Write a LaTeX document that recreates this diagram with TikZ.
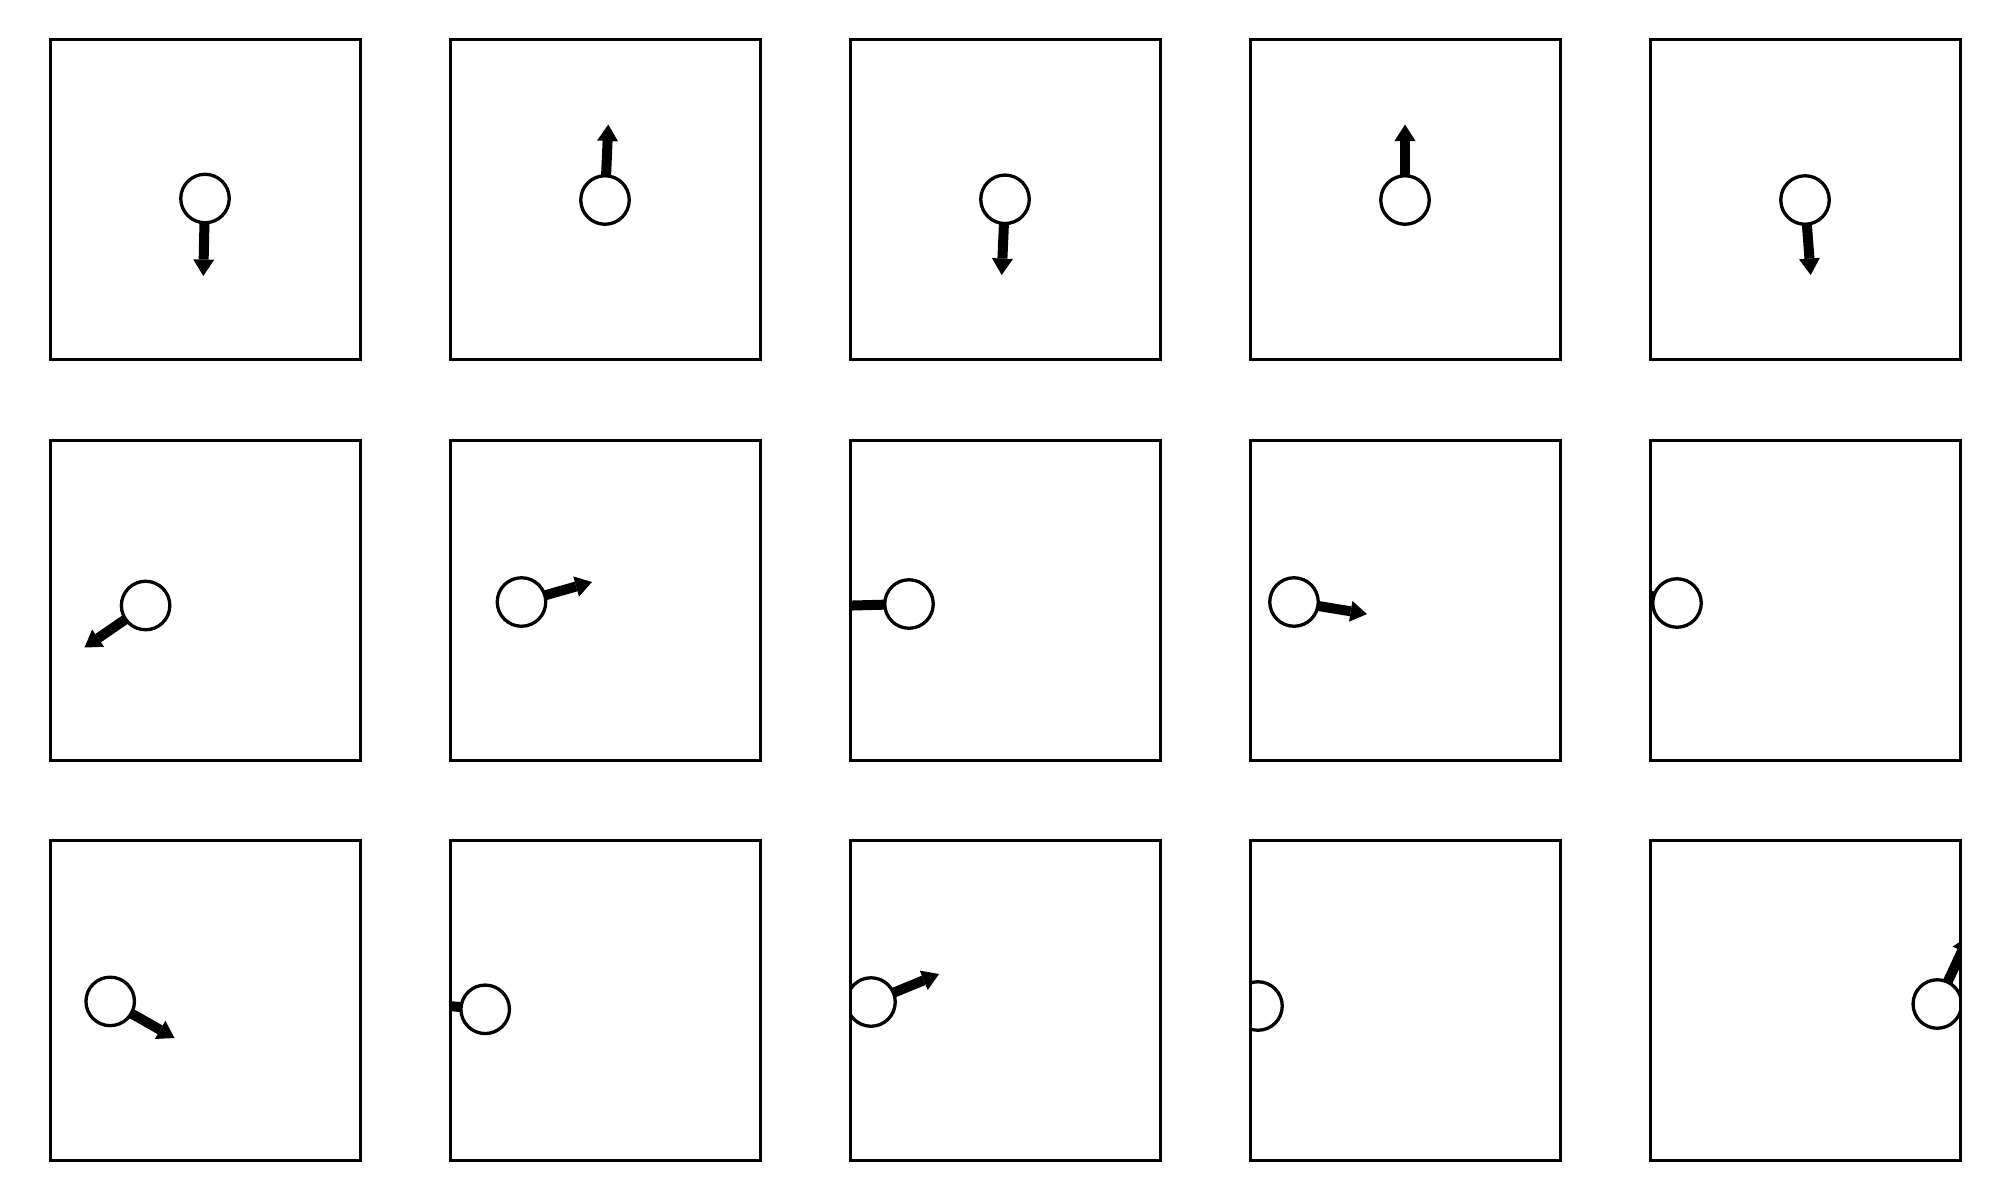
\documentclass[tikz,border=0pt]{standalone}
\usetikzlibrary{arrows.meta}
\begin{document}
\begin{tikzpicture}[x=1pt,y=-1pt,
  frame/.style={draw=black,line width=3pt,line join=miter,rectangle,minimum width=310pt,minimum height=320pt,inner sep=0pt,outer sep=0pt},
  ball/.style={circle,draw=black,fill=white,line width=3.3pt,minimum size=48.5pt,inner sep=0pt,outer sep=0pt},
  vel/.style={line width=10pt,line cap=butt,-{Triangle[width=21pt,length=16.5pt,line width=0pt]}}]
\fill[white] (0,0) rectangle (2000,1200);
\useasboundingbox (0,0) rectangle (2000,1200);
% ---------- row 1 ----------
\begin{scope}
\clip (50,39.7) rectangle (360,359.7);
\coordinate (p1) at (205,198.5); \coordinate (t1) at (203.3,276);
\draw[vel] (p1) -- (t1); \node[ball] (c1) at (p1) {};
\end{scope}
\begin{scope}
\clip (450,39.7) rectangle (760,359.7);
\coordinate (p2) at (605,200); \coordinate (t2) at (608.3,124.5);
\draw[vel] (p2) -- (t2); \node[ball] (c2) at (p2) {};
\end{scope}
\begin{scope}
\clip (850,39.7) rectangle (1160,359.7);
\coordinate (p3) at (1005,199.3); \coordinate (t3) at (1001.7,275);
\draw[vel] (p3) -- (t3); \node[ball] (c3) at (p3) {};
\end{scope}
\begin{scope}
\clip (1250,39.7) rectangle (1560,359.7);
\coordinate (p4) at (1405,200); \coordinate (t4) at (1405,124.5);
\draw[vel] (p4) -- (t4); \node[ball] (c4) at (p4) {};
\end{scope}
\begin{scope}
\clip (1650,39.7) rectangle (1960,359.7);
\coordinate (p5) at (1805,200); \coordinate (t5) at (1810.7,275);
\draw[vel] (p5) -- (t5); \node[ball] (c5) at (p5) {};
\end{scope}
% ---------- row 2 ----------
\begin{scope}
\clip (50,440) rectangle (360,760);
\coordinate (p6) at (145.6,605.5); \coordinate (t6) at (84.5,647.5);
\draw[vel] (p6) -- (t6); \node[ball] (c6) at (p6) {};
\end{scope}
\begin{scope}
\clip (450,440) rectangle (760,760);
\coordinate (p7) at (521.5,602); \coordinate (t7) at (592,582);
\draw[vel] (p7) -- (t7); \node[ball] (c7) at (p7) {};
\end{scope}
\begin{scope}
\clip (850,440) rectangle (1160,760);
\coordinate (p8) at (909,604); \coordinate (t8) at (834,606);
\draw[vel] (p8) -- (t8); \node[ball] (c8) at (p8) {};
\end{scope}
\begin{scope}
\clip (1250,440) rectangle (1560,760);
\coordinate (p9) at (1294,602); \coordinate (t9) at (1367,614);
\draw[vel] (p9) -- (t9); \node[ball] (c9) at (p9) {};
\end{scope}
\begin{scope}
\clip (1650,440) rectangle (1960,760);
\coordinate (p10) at (1677,603); \coordinate (t10) at (1605,583);
\draw[vel] (p10) -- (t10); \node[ball] (c10) at (p10) {};
\end{scope}
% ---------- row 3 ----------
\begin{scope}
\clip (50,840.2) rectangle (360,1160.2);
\coordinate (p11) at (110.2,1001.4); \coordinate (t11) at (174.5,1038);
\draw[vel] (p11) -- (t11); \node[ball] (c11) at (p11) {};
\end{scope}
\begin{scope}
\clip (450,840.2) rectangle (760,1160.2);
\coordinate (p12) at (485.2,1009.3); \coordinate (t12) at (410.5,1002.5);
\draw[vel] (p12) -- (t12); \node[ball] (c12) at (p12) {};
\end{scope}
\begin{scope}
\clip (850,840.2) rectangle (1160,1160.2);
\coordinate (p13) at (871,1002); \coordinate (t13) at (939,974);
\draw[vel] (p13) -- (t13); \node[ball] (c13) at (p13) {};
\end{scope}
\begin{scope}
\clip (1250,840.2) rectangle (1560,1160.2);
\coordinate (p14) at (1258,1006); \coordinate (t14) at (1183,1006);
\draw[vel] (p14) -- (t14); \node[ball] (c14) at (p14) {};
\end{scope}
\begin{scope}
\clip (1650,840.2) rectangle (1960,1160.2);
\coordinate (p15) at (1937.3,1004); \coordinate (t15) at (1969,936);
\draw[vel] (p15) -- (t15); \node[ball] (c15) at (p15) {};
\end{scope}
% ---------- frames ----------
\node[frame] (b1) at (205,199.7) {};
\node[frame] (b2) at (605,199.7) {};
\node[frame] (b3) at (1005,199.7) {};
\node[frame] (b4) at (1405,199.7) {};
\node[frame] (b5) at (1805,199.7) {};
\node[frame] (b6) at (205,600) {};
\node[frame] (b7) at (605,600) {};
\node[frame] (b8) at (1005,600) {};
\node[frame] (b9) at (1405,600) {};
\node[frame] (b10) at (1805,600) {};
\node[frame] (b11) at (205,1000.2) {};
\node[frame] (b12) at (605,1000.2) {};
\node[frame] (b13) at (1005,1000.2) {};
\node[frame] (b14) at (1405,1000.2) {};
\node[frame] (b15) at (1805,1000.2) {};
\end{tikzpicture}
\end{document}
